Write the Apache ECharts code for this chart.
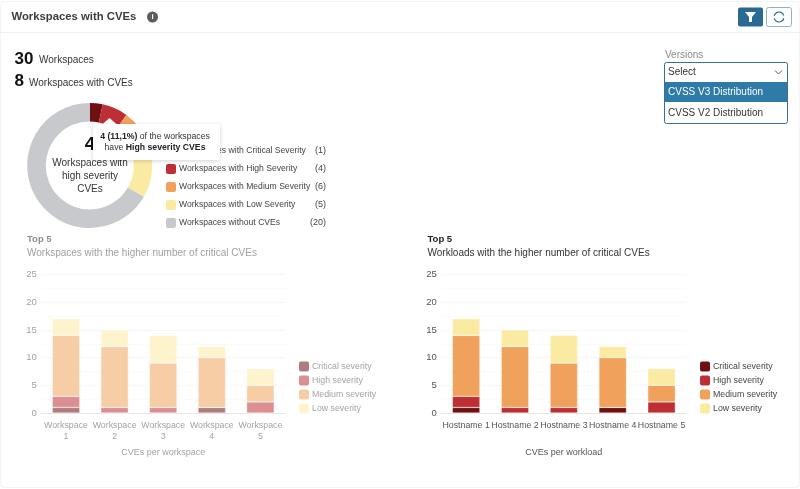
<!DOCTYPE html>
<html><head><meta charset="utf-8">
<style>html,body{margin:0;padding:0;background:#fff}#c{width:800px;height:489px}</style>
<script src="https://cdn.jsdelivr.net/npm/echarts@6/dist/echarts.min.js"></script></head>
<body><div id="c"></div>
<script>
const FONT = '"Liberation Sans", Arial, sans-serif';
const severities = ['Critical severity', 'High severity', 'Medium severity', 'Low severity'];
const workspaceNames = ['Workspace\n1', 'Workspace\n2', 'Workspace\n3', 'Workspace\n4', 'Workspace\n5'];
const hostNames = ['Hostname 1', 'Hostname 2', 'Hostname 3', 'Hostname 4', 'Hostname 5'];
const critical = [1, 0, 0, 1, 0];
const high = [2, 1, 1, 0, 2];
const medium = [11, 11, 8, 9, 3];
const low = [3, 3, 5, 2, 3];
const sevColors = ['#6e0f12', '#bd2f35', '#f0a15c', '#fbeba2'];
const sevFaded = ['#b07c7e', '#dc8f93', '#f7cda6', '#fdf4cd'];
const donutNames = ['Workspaces with Critical Severity', 'Workspaces with High Severity', 'Workspaces with Medium Severity', 'Workspaces with Low Severity', 'Workspaces without CVEs'];
const donutValues = [1, 2, 3, 4, 20];
const donutCounts = [1, 4, 6, 5, 20];
const donutColors = ['#6e0f12', '#bd2f35', '#f0a15c', '#fbeba2', '#c8c9cc'];
const yTicks = {min: 0, max: 25, interval: 5};

const stackVals = [critical, high, medium, low];
function barSeries(axis, tag, palette) {
  return severities.map((s, i) => ({
    type: 'bar', name: s + tag, stack: 'st' + axis, xAxisIndex: axis, yAxisIndex: axis,
    barWidth: 27.5, data: stackVals[i],
    itemStyle: {color: palette[i], borderColor: '#fff', borderWidth: 0.4},
    silent: true
  }));
}
function xAx(idx, cats, name, col, gap) {
  return {type: 'category', gridIndex: idx, data: cats, name: name, nameLocation: 'middle', nameGap: gap,
    nameTextStyle: {color: col, fontSize: 9, fontFamily: FONT},
    axisTick: {show: false}, axisLine: {lineStyle: {color: '#e6e6e6', width: 1}},
    axisLabel: {color: col, fontSize: 8.8, fontFamily: FONT, interval: 0, margin: 7, lineHeight: 11}};
}
function yAx(idx, col) {
  return Object.assign({type: 'value', gridIndex: idx}, yTicks, {
    axisLine: {show: false}, axisTick: {show: false},
    axisLabel: {color: col, fontSize: 9.5, fontFamily: FONT, margin: 5},
    splitLine: {lineStyle: {color: '#f6f6f6'}},
    minorTick: {show: false, splitNumber: 2},
    minorSplitLine: {show: true, lineStyle: {color: '#fafafa'}}});
}
const swatch = c => ({color: c, borderColor: c, borderWidth: 4, borderJoin: 'round'});
function sevLegend(tag, left, col, palette) {
  return {left: left, top: 361.5, padding: 0, orient: 'vertical', itemWidth: 6, itemHeight: 6, itemGap: 4, icon: 'rect',
    selectedMode: false, textStyle: {color: col, fontSize: 8.8, fontFamily: FONT},
    data: severities.map((s, i) => ({name: s + tag, itemStyle: swatch(palette[i])})),
    formatter: n => n.trim()};
}
const T = (x, y, text, size, col, extra) => ({type: 'text', z: 60, x: x, y: y,
  style: Object.assign({text: text, fontSize: size, fill: col, fontFamily: FONT, verticalAlign: 'middle'}, extra || {})});
const TT = (o) => Object.assign(o, {z: 100});

const graphic = [
  {type: 'rect', z: -5, shape: {x: 0.5, y: 1.5, width: 799, height: 486, r: 3}, style: {fill: '#fff', stroke: '#f4f4f4', lineWidth: 1}},
  {type: 'line', z: -4, shape: {x1: 0, y1: 32.5, x2: 800, y2: 32.5}, style: {stroke: '#f0f0f0', lineWidth: 1}},
  {type: 'circle', z: 50, shape: {cx: 152.5, cy: 17, r: 5.5}, style: {fill: '#5b5b60'}},
  T(152.5, 17, 'i', 8, '#fff', {textAlign: 'center', fontWeight: 'bold'}),
  {type: 'rect', z: 50, shape: {x: 738, y: 7.5, width: 25, height: 19, r: 2}, style: {fill: '#2a6a92'}},
  {type: 'polygon', z: 51, shape: {points: [[745, 12], [756, 12], [752, 17], [752, 22], [749, 22], [749, 17]]}, style: {fill: '#fff'}},
  {type: 'rect', z: 50, shape: {x: 766.5, y: 7.5, width: 25, height: 19, r: 2}, style: {fill: '#fff', stroke: '#8db4c6', lineWidth: 1}},
  {type: 'arc', z: 51, shape: {cx: 779, cy: 17, r: 5, startAngle: -2.9, endAngle: -0.3}, style: {fill: 'none', stroke: '#2a6a92', lineWidth: 1.2}},
  {type: 'arc', z: 51, shape: {cx: 779, cy: 17, r: 5, startAngle: 0.25, endAngle: 2.85}, style: {fill: 'none', stroke: '#2a6a92', lineWidth: 1.2}},
  T(14.5, 59.5, '30', 17, '#111', {fontWeight: 'bold'}),
  T(39, 60.5, 'Workspaces', 10, '#333'),
  T(14.5, 81, '8', 17, '#111', {fontWeight: 'bold'}),
  T(29, 83, 'Workspaces with CVEs', 10, '#333'),
  T(665, 55.5, 'Versions', 10, '#8a8a8a'),
  {type: 'rect', z: 50, shape: {x: 664.5, y: 62.5, width: 123, height: 61, r: 2}, style: {fill: '#fff', stroke: '#3b6e8f', lineWidth: 1}},
  {type: 'rect', z: 51, shape: {x: 665, y: 82, width: 122, height: 20}, style: {fill: '#2f7ba8'}},
  T(668, 72, 'Select', 10, '#333'),
  {type: 'polyline', z: 51, shape: {points: [[775, 70.5], [778.5, 74], [782, 70.5]]}, style: {fill: 'none', stroke: '#555', lineWidth: 1}},
  T(668, 92, 'CVSS V3 Distribution', 10, '#fff'),
  T(668, 113, 'CVSS V2 Distribution', 10, '#333'),
  T(90, 145, '4', 19, '#111', {fontWeight: 'bold', textAlign: 'center'}),
  T(90, 163.5, 'Workspaces with', 10, '#333', {textAlign: 'center'}),
  T(90, 176.5, 'high severity', 10, '#333', {textAlign: 'center'}),
  T(90, 189.5, 'CVEs', 10, '#333', {textAlign: 'center'}),
  TT({type: 'polygon', shape: {points: [[102, 124.5], [109.5, 118], [117, 124.5]]}, style: {fill: '#fff'}}),
  TT({type: 'rect', shape: {x: 93, y: 124, width: 127, height: 36, r: 2}, style: {fill: '#fff', shadowBlur: 4, shadowColor: 'rgba(0,0,0,0.18)', shadowOffsetY: 1}}),
  TT(T(155, 136.5, '{b|4 (11,1%)} of the workspaces', 8.7, '#333', {textAlign: 'center', rich: {b: {fontWeight: 'bold', fontSize: 8.7, fill: '#222', fontFamily: FONT}}})),
  TT(T(155, 148, 'have {b|High severity CVEs}', 8.7, '#333', {textAlign: 'center', rich: {b: {fontWeight: 'bold', fontSize: 8.7, fill: '#222', fontFamily: FONT}}}))
];

const option = {
  animation: false,
  backgroundColor: '#fff',
  textStyle: {fontFamily: FONT},
  title: [
    {text: 'Workspaces with CVEs', left: 11.5, top: 11, textStyle: {fontSize: 11.3, fontWeight: 'bold', color: '#3c3c3c', fontFamily: FONT}, padding: 0},
    {text: 'Top 5', subtext: 'Workspaces with the higher number of critical CVEs', left: 27, top: 234, padding: 0, itemGap: 4,
      textStyle: {fontSize: 9.5, fontWeight: 'bold', color: '#8f8f8f', fontFamily: FONT},
      subtextStyle: {fontSize: 10, color: '#a0a0a0', fontFamily: FONT}},
    {text: 'Top 5', subtext: 'Workloads with the higher number of critical CVEs', left: 427.5, top: 234, padding: 0, itemGap: 4,
      textStyle: {fontSize: 9.5, fontWeight: 'bold', color: '#222', fontFamily: FONT},
      subtextStyle: {fontSize: 10, color: '#333', fontFamily: FONT}}
  ],
  grid: [
    {left: 41.7, width: 243, top: 274.5, height: 138.5},
    {left: 441.7, width: 244.3, top: 274.5, height: 138.5}
  ],
  xAxis: [xAx(0, workspaceNames, 'CVEs per workspace', '#a3a3a3', 35), xAx(1, hostNames, 'CVEs per workload', '#555', 35)],
  yAxis: [yAx(0, '#a3a3a3'), yAx(1, '#555')],
  legend: [
    sevLegend(' ', 299, '#a3a3a3', sevFaded),
    sevLegend('  ', 700, '#444', sevColors),
    {left: 166, top: 146, padding: 0, orient: 'vertical', itemWidth: 6, itemHeight: 6, itemGap: 8, icon: 'rect', selectedMode: false,
      data: donutNames.map((n, i) => ({name: n, itemStyle: swatch(donutColors[i])})),
      formatter: n => `{a|${n}}{b|(${donutCounts[donutNames.indexOf(n)]})}`,
      textStyle: {color: '#444', fontFamily: FONT, rich: {
        a: {width: 128, height: 10, fontSize: 8.6, color: '#444', fontFamily: FONT},
        b: {width: 19, height: 10, align: 'right', fontSize: 9, color: '#444', fontFamily: FONT}}}}
  ],
  series: [
    {type: 'pie', center: [89.7, 165.5], radius: [44, 62.5], startAngle: 90, silent: true, label: {show: false}, labelLine: {show: false},
      data: donutNames.map((n, i) => ({name: n, value: donutValues[i], itemStyle: {color: donutColors[i]}}))},
    ...barSeries(0, ' ', sevFaded),
    ...barSeries(1, '  ', sevColors)
  ],
  graphic: {elements: graphic}
};
echarts.init(document.getElementById('c'), null, {renderer: 'canvas'}).setOption(option);
</script></body></html>
